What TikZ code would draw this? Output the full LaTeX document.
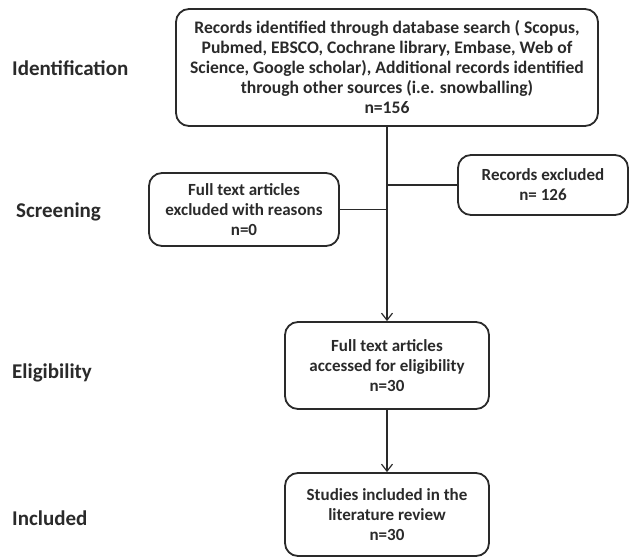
\documentclass[tikz,border=0pt]{standalone}
\usepackage{fontspec}
\setmainfont{Carlito}
\usetikzlibrary{arrows.meta}
\definecolor{ink}{HTML}{2A2A2A}
\begin{document}
\begin{tikzpicture}[x=1pt,y=-1pt,
  box/.style={draw=ink,line width=1.8pt,rounded corners=13pt,align=center,
    font=\fontsize{17}{20}\selectfont\bfseries,text=ink,inner sep=0pt},
  stage/.style={anchor=base west,font=\fontsize{21}{24}\selectfont\bfseries,text=ink,inner sep=0pt},
  conn/.style={draw=ink,line width=1.4pt},
  arr/.style={conn,-{Straight Barb[length=7pt,width=11pt,line width=1.2pt]}}]
\useasboundingbox (0,0) rectangle (630,558);
\node[box,minimum width=422pt,minimum height=117pt,font=\fontsize{17.6}{20}\selectfont\bfseries] (top) at (387,67.5)
  {Records identified through database search ( Scopus,\\
   Pubmed, EBSCO, Cochrane library, Embase, Web of\\
   Science, Google scholar), Additional records identified\\
   through other sources (i.e. snowballing)\\ n=156};
\node[box,minimum width=190pt,minimum height=73pt] (left) at (244,209.5)
  {Full text articles\\ excluded with reasons\\ n=0};
\node[box,minimum width=170pt,minimum height=60pt] (right) at (543,185)
  {Records excluded\\ n= 126};
\node[box,minimum width=204pt,minimum height=87pt] (elig) at (387,365.5)
  {Full text articles\\ accessed for eligibility\\ n=30};
\node[box,minimum width=204pt,minimum height=83pt] (incl) at (387,514.5)
  {Studies included in the\\ literature review\\ n=30};
\node[stage] (l1) at (12,75) {Identification};
\node[stage] (l2) at (16,217) {Screening};
\node[stage] (l3) at (12,378) {Eligibility};
\node[stage] (l4) at (12,525) {Included};
\coordinate (jr) at (387,185);
\coordinate (jl) at (387,209.5);
\draw[arr] (top.south) -- (elig.north);
\draw[conn] (jr) -- (right.west);
\draw[conn] (jl) -- (left.east);
\draw[arr] (elig.south) -- (incl.north);
\end{tikzpicture}
\end{document}
